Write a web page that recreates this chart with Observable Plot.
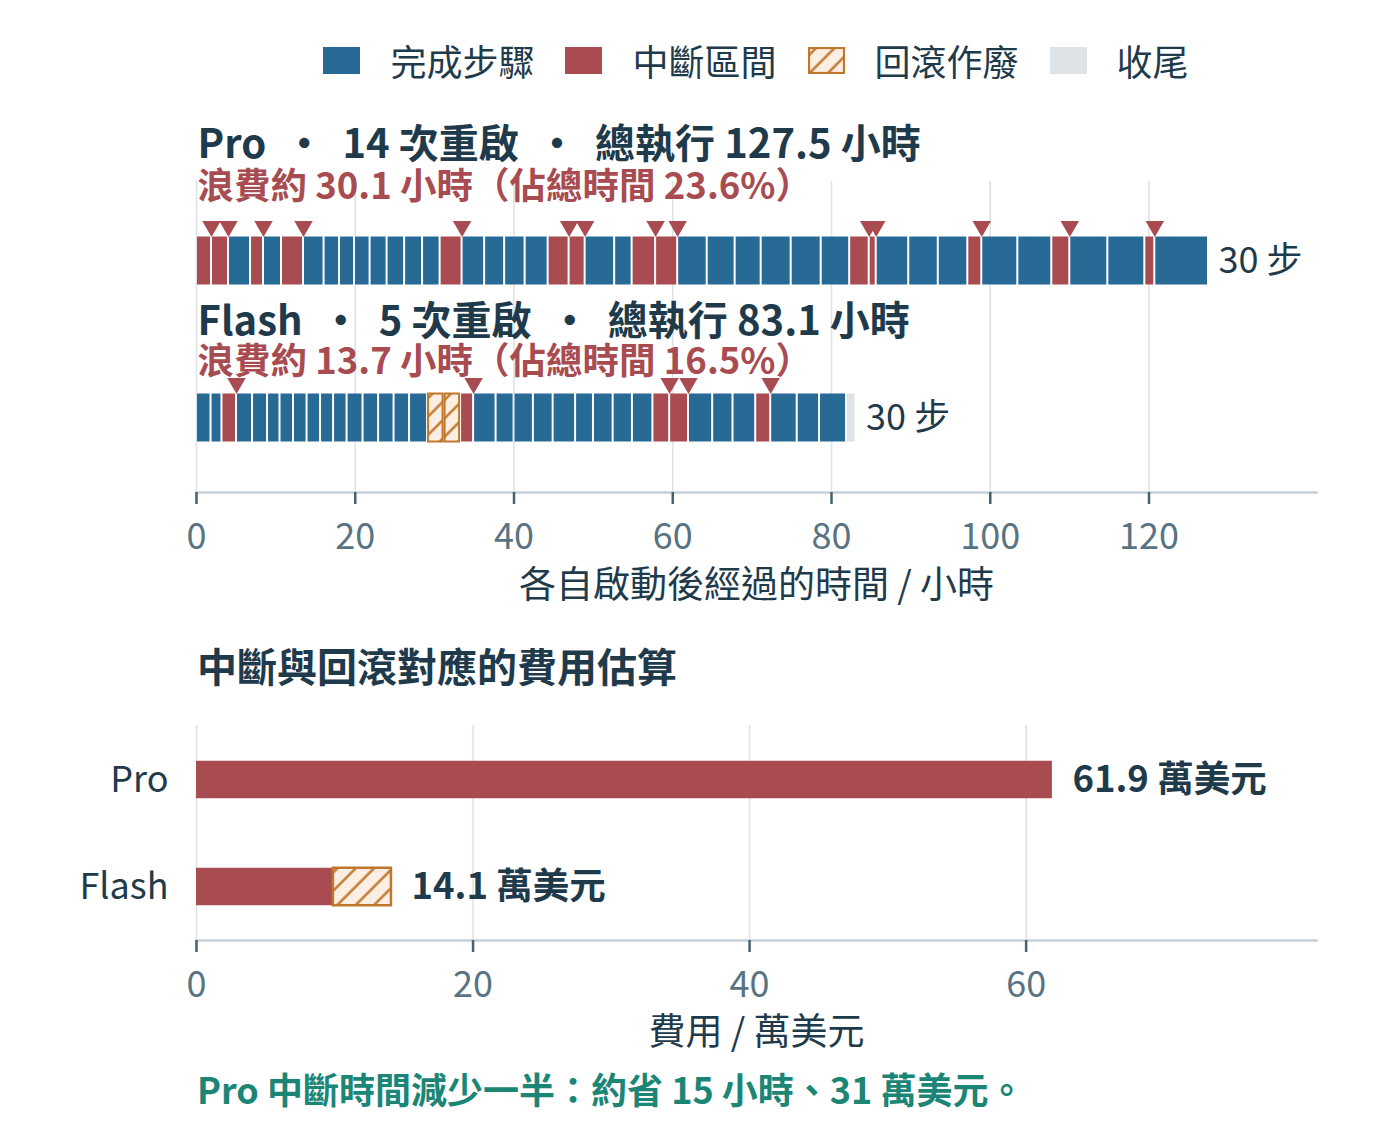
<!DOCTYPE html>
<html>
<head>
<meta charset="utf-8">
<script src="https://cdn.jsdelivr.net/npm/d3@7"></script>
<script src="https://cdn.jsdelivr.net/npm/@observablehq/plot@0.6"></script>
<style>
  html, body { margin: 0; padding: 0; background: #ffffff; }
  body { font-family: "Noto Sans CJK TC", "Noto Sans", sans-serif; }
  #page { position: relative; width: 1400px; height: 1134px; overflow: hidden; }
  .abs { position: absolute; }
  #legend { left: 196px; width: 1120px; top: 37px; height: 46px; display: flex; justify-content: center; align-items: center; }
  .item { display: flex; align-items: center; margin-right: 31px; font-size: 36px; color: #1f3b4b; }
  .item:last-child { margin-right: 0; }
  .sw { width: 37px; height: 27px; margin-right: 30px; display: block; }
  #costTitle { left: 197px; top: 640px; font-size: 40px; font-weight: 700; color: #1f3b4b; line-height: 50px; }
  #footer { left: 197px; top: 1064px; font-size: 36px; font-weight: 700; color: #1b8576; line-height: 48px; }
  svg text { font-family: "Noto Sans CJK TC", "Noto Sans", sans-serif; }
</style>
</head>
<body>
<div id="page">
  <div id="legend" class="abs"></div>
  <div id="topChart" class="abs" style="left:0;top:100px;"></div>
  <div id="costTitle" class="abs"></div>
  <div id="bottomChart" class="abs" style="left:0;top:700px;"></div>
  <div id="footer" class="abs"></div>
</div>
<script>
// ---------- colours ----------
const INK = "#1f3b4b", BLUE = "#286a96", RED = "#a84c51", ORANGE = "#c0762b",
      HATCHBG = "#fbefe4", GREY = "#dde3e7", TICK = "#587383", AXIS = "#c5d0d8", TICKMARK = "#46616f", TEAL = "#1b8576";

// ---------- data ----------
const legendKeys = ["step", "down", "rollback", "tail"];
const legendLabels = ["完成步驟", "中斷區間", "回滾作廢", "收尾"];

const runNames = ["Pro", "Flash"];
const runRestarts = [14, 5];
const runTotalHours = [127.5, 83.1];
const runWastedHours = [30.1, 13.7];
const runWastedPct = [23.6, 16.5];

// Pro timeline: kind of each segment and the hour at which it ends
const proKinds = ["down","down","step","down","step","down","step","step","step","step",
                  "step","step","step","step","down","step","step","step","step","down",
                  "down","step","step","down","down","step","step","step","step","step",
                  "step","down","down","step","step","step","down","step","step","down",
                  "step","step","down","step"];
const proEnds = [1.89, 4.03, 6.81, 8.44, 10.71, 13.48, 16.07, 18.02, 19.91, 21.87,
                 24.01, 26.22, 28.48, 30.69, 33.46, 36.30, 38.82, 41.40, 44.30, 46.94,
                 48.96, 52.68, 54.88, 57.84, 60.62, 64.34, 67.86, 71.14, 74.92, 78.70,
                 82.29, 84.75, 85.63, 89.73, 93.45, 97.17, 98.93, 103.47, 107.75, 110.02,
                 114.81, 119.47, 120.73, 127.5];

// Flash timeline
const flashKinds = ["step","step","down","step","step","step","step","step","step","step",
                    "step","step","step","step","step","step","rollback","rollback","down","step",
                    "step","step","step","step","step","step","step","step","down","down",
                    "step","step","step","down","step","step","step","tail"];
const flashEnds = [1.83, 3.21, 5.04, 7.06, 8.95, 10.52, 12.22, 13.93, 15.63, 17.27,
                   18.97, 20.98, 22.94, 24.89, 26.84, 29.11, 31.19, 33.27, 34.91, 37.74,
                   40.01, 42.44, 44.93, 47.76, 50.01, 52.49, 54.92, 57.50, 59.61, 61.98,
                   65.03, 67.59, 70.45, 72.34, 75.68, 78.49, 81.89, 83.1];

const timeTicks = [0, 20, 40, 60, 80, 100, 120];
const timeLabel = "各自啟動後經過的時間 / 小時";

const costTitle = "中斷與回滾對應的費用估算";
const costDown = [61.9, 9.9];
const costRollback = [0, 4.2];
const costTotal = [61.9, 14.1];
const costTicks = [0, 20, 40, 60];
const costLabel = "費用 / 萬美元";

const footerText = "Pro 中斷時間減少一半：約省 15 小時、31 萬美元。";

// ---------- derived tables ----------
function toSegments(run, kinds, ends) {
  return kinds.map((k, i) => ({ run, kind: k, x1: i ? ends[i - 1] : 0, x2: ends[i] }));
}
const segments = [
  ...toSegments("Pro", proKinds, proEnds),
  ...toSegments("Flash", flashKinds, flashEnds)
];
const restartMarks = segments.filter(d => d.kind === "down");
const SEP = "\u00a0\u00a0・\u00a0\u00a0";
const runs = runNames.map((n, i) => ({
  run: n,
  end: d3.max(segments.filter(s => s.run === n), s => s.x2),
  steps: segments.filter(s => s.run === n && s.kind === "step").length,
  title: `${n}${SEP}${runRestarts[i]} 次重啟${SEP}總執行 ${runTotalHours[i]} 小時`,
  sub: `浪費約 ${runWastedHours[i]} 小時（佔總時間 ${runWastedPct[i]}%）`
}));
const costRows = runNames.map((n, i) => ({ run: n, down: costDown[i], rb: costRollback[i], total: costTotal[i] }));

function addHatch(svg, id) {
  const defs = d3.select(svg).insert("defs", ":first-child");
  const p = defs.append("pattern").attr("id", id).attr("patternUnits", "userSpaceOnUse")
    .attr("width", 13).attr("height", 13).attr("patternTransform", "rotate(45)");
  p.append("rect").attr("width", 13).attr("height", 13).attr("fill", HATCHBG);
  p.append("line").attr("x1", 6.5).attr("y1", 0).attr("x2", 6.5).attr("y2", 13)
    .attr("stroke", ORANGE).attr("stroke-width", 2.4);
}

// ---------- legend ----------
const colorOf = { step: BLUE, down: RED, rollback: ORANGE, tail: GREY };
const legend = d3.select("#legend");
legendKeys.forEach((k, i) => {
  const it = legend.append("div").attr("class", "item");
  const sw = it.append("svg").attr("class", "sw").attr("width", 37).attr("height", 27);
  if (k === "rollback") {
    addHatch(sw.node(), "hatchLegend");
    sw.append("rect").attr("x", 1).attr("y", 1).attr("width", 35).attr("height", 25)
      .attr("fill", "url(#hatchLegend)").attr("stroke", ORANGE).attr("stroke-width", 2.2);
  } else {
    sw.append("rect").attr("width", 37).attr("height", 27).attr("fill", colorOf[k]);
  }
  it.append("span").text(legendLabels[i]);
});

// ---------- top timeline chart ----------
const FONT = "\"Noto Sans CJK TC\", \"Noto Sans\", sans-serif";
const barKinds = segments.filter(d => d.kind !== "rollback");
const rbKinds = segments.filter(d => d.kind === "rollback");
const titleDy = { Pro: [-116, -74], Flash: [-96, -56] };

const topMarks = [
  Plot.gridX(timeTicks, { stroke: GREY, strokeOpacity: 1, strokeWidth: 1.6 }),
  Plot.frame({ anchor: "bottom", stroke: AXIS, strokeWidth: 2.5 }),
  Plot.axisX(timeTicks, { tickSize: 12, tickPadding: 19, stroke: TICKMARK, strokeWidth: 2.5, fill: TICK, fontSize: 36, label: null }),
  Plot.text([timeLabel], { frameAnchor: "bottom", text: d => d, dy: 105, fill: INK, fontSize: 37 }),
  Plot.barX(barKinds, { x1: "x1", x2: "x2", y: "run", fill: "kind", insetTop: 54.5, insetBottom: 54.5, insetLeft: 1, insetRight: 1 }),
  Plot.barX(rbKinds, { x1: "x1", x2: "x2", y: "run", fill: "url(#hatchTop)", stroke: ORANGE, strokeWidth: 2, insetTop: 54.5, insetBottom: 54.5, insetLeft: 1, insetRight: 1 }),
  Plot.dot(restartMarks, { x: "x2", y: "run", symbol: "triangle", rotate: 180, r: 6.86, fill: RED, stroke: "none", dy: -34.7 }),
  Plot.text(runs, { x: "end", y: "run", text: d => `${d.steps} 步`, dx: 10, textAnchor: "start", fill: INK, fontSize: 36 })
];
runNames.forEach(n => {
  const rows = runs.filter(d => d.run === n);
  topMarks.push(Plot.text(rows, { frameAnchor: "left", y: "run", text: "title", dx: 1, dy: titleDy[n][0], textAnchor: "start", fill: INK, fontSize: 40, fontWeight: 700 }));
  topMarks.push(Plot.text(rows, { frameAnchor: "left", y: "run", text: "sub", dx: 1, dy: titleDy[n][1], textAnchor: "start", fill: RED, fontSize: 36.5, fontWeight: 700 }));
});

const topSvg = Plot.plot({
  width: 1400, height: 520,
  marginLeft: 196, marginRight: 84, marginTop: 81, marginBottom: 128,
  style: { fontFamily: FONT, fontSize: "36px", color: TICK, background: "transparent", overflow: "visible" },
  x: { domain: [0, 141.1] },
  y: { domain: runNames, padding: 0, insetTop: 0.5, insetBottom: -3.5, axis: null },
  color: { domain: legendKeys, range: legendKeys.map(k => colorOf[k]) },
  marks: topMarks
});
addHatch(topSvg, "hatchTop");
document.getElementById("topChart").appendChild(topSvg);

// ---------- cost chart ----------
document.getElementById("costTitle").textContent = costTitle;

const bottomSvg = Plot.plot({
  width: 1400, height: 370,
  marginLeft: 196, marginRight: 84, marginTop: 25, marginBottom: 130,
  style: { fontFamily: FONT, fontSize: "36px", color: TICK, background: "transparent", overflow: "visible" },
  x: { domain: [0, 81] },
  y: { domain: runNames, padding: 0 },
  marks: [
    Plot.gridX(costTicks, { stroke: GREY, strokeOpacity: 1, strokeWidth: 1.6 }),
    Plot.frame({ anchor: "bottom", stroke: AXIS, strokeWidth: 2.5 }),
    Plot.axisX(costTicks, { tickSize: 12, tickPadding: 19, stroke: TICKMARK, strokeWidth: 2.5, fill: TICK, fontSize: 36, label: null }),
    Plot.text([costLabel], { frameAnchor: "bottom", text: d => d, dy: 104, fill: INK, fontSize: 37 }),
    Plot.axisY({ tickSize: 0, tickPadding: 28, fill: INK, fontSize: 36, label: null }),
    Plot.barX(costRows, { x1: () => 0, x2: "down", y: "run", fill: RED, insetTop: 34.75, insetBottom: 34.75 }),
    Plot.barX(costRows.filter(d => d.rb > 0), { x1: "down", x2: d => d.down + d.rb, y: "run", fill: "url(#hatchBottom)", stroke: ORANGE, strokeWidth: 2.5, insetTop: 34.75, insetBottom: 34.75 }),
    Plot.text(costRows, { x: "total", y: "run", text: d => `${d.total} 萬美元`, dx: 20, textAnchor: "start", fill: INK, fontSize: 36.5, fontWeight: 700 })
  ]
});
addHatch(bottomSvg, "hatchBottom");
document.getElementById("bottomChart").appendChild(bottomSvg);

document.getElementById("footer").textContent = footerText;
</script>
</body>
</html>
